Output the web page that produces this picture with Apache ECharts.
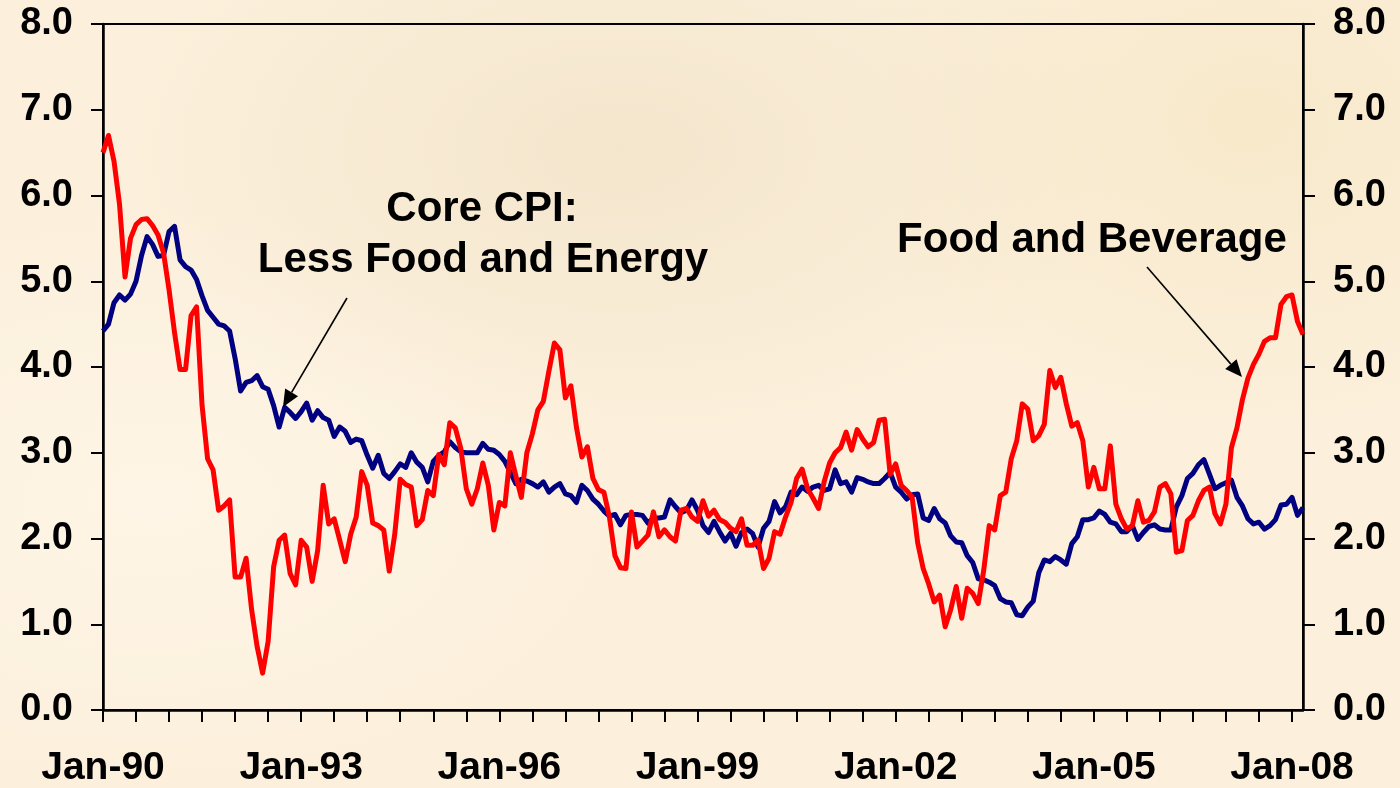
<!DOCTYPE html>
<html>
<head>
<meta charset="utf-8">
<script src="https://cdn.jsdelivr.net/npm/echarts@6/dist/echarts.min.js"></script>
<style>
  html, body { margin: 0; padding: 0; }
  body {
    width: 1400px; height: 788px; overflow: hidden;
    background:
      radial-gradient(ellipse 520px 300px at 620px 150px, rgba(238, 222, 192, 0.55), rgba(238, 222, 192, 0)),
      radial-gradient(ellipse 420px 320px at 1250px 120px, rgba(245, 228, 190, 0.6), rgba(245, 228, 190, 0)),
      radial-gradient(ellipse 500px 300px at 150px 500px, rgba(255, 248, 236, 0.6), rgba(255, 248, 236, 0)),
      #fcf0dc;
  }
  #chart { width: 1400px; height: 788px; }
</style>
</head>
<body>
<div id="chart"></div>
<script>
  // monthly, Jan-1990 .. Mar-2008, year-over-year % change
  var startYear = 1990,
    monthCount = 219;

  var coreCpi = [
    4.42, 4.50, 4.75, 4.84, 4.78, 4.85, 5.00, 5.30, 5.52, 5.43, 5.29, 5.30,
    5.58, 5.64, 5.25, 5.17, 5.13, 5.02, 4.83, 4.66, 4.58, 4.50, 4.48, 4.42,
    4.10, 3.72, 3.82, 3.84, 3.90, 3.77, 3.74, 3.55, 3.30, 3.53, 3.47, 3.40,
    3.48, 3.58, 3.38, 3.49, 3.41, 3.38, 3.19, 3.30, 3.25, 3.12, 3.16, 3.14,
    2.97, 2.82, 2.97, 2.76, 2.70, 2.78, 2.87, 2.83, 3.00, 2.89, 2.83, 2.66,
    2.90, 2.97, 3.01, 3.13, 3.06, 3.01, 3.00, 3.00, 3.00, 3.11, 3.04, 3.03,
    2.98, 2.90, 2.77, 2.64, 2.69, 2.67, 2.64, 2.60, 2.66, 2.54, 2.60, 2.64,
    2.52, 2.50, 2.42, 2.62, 2.56, 2.46, 2.40, 2.32, 2.26, 2.28, 2.16, 2.27,
    2.28, 2.28, 2.27, 2.18, 2.24, 2.24, 2.25, 2.45, 2.37, 2.30, 2.33, 2.45,
    2.33, 2.15, 2.07, 2.20, 2.08, 1.97, 2.06, 1.91, 2.07, 2.11, 2.06, 1.90,
    2.12, 2.20, 2.43, 2.30, 2.37, 2.54, 2.51, 2.60, 2.55, 2.60, 2.62, 2.56,
    2.58, 2.80, 2.64, 2.66, 2.54, 2.71, 2.69, 2.66, 2.64, 2.64, 2.70, 2.77,
    2.60, 2.54, 2.46, 2.51, 2.52, 2.24, 2.21, 2.35, 2.23, 2.18, 2.03, 1.96,
    1.95, 1.80, 1.72, 1.53, 1.52, 1.49, 1.45, 1.30, 1.26, 1.25, 1.11, 1.10,
    1.20, 1.27, 1.60, 1.75, 1.73, 1.79, 1.75, 1.70, 1.94, 2.02, 2.22, 2.22,
    2.24, 2.32, 2.28, 2.19, 2.17, 2.08, 2.08, 2.15, 1.99, 2.07, 2.14, 2.16,
    2.11, 2.10, 2.10, 2.37, 2.50, 2.70, 2.76, 2.86, 2.92, 2.75, 2.58, 2.62,
    2.65, 2.68, 2.48, 2.38, 2.23, 2.17, 2.19, 2.11, 2.15, 2.22, 2.39, 2.40,
    2.48, 2.27, 2.36
  ];

  var foodBev = [
    6.50, 6.70, 6.40, 5.90, 5.05, 5.50, 5.66, 5.72, 5.73, 5.65, 5.54, 5.33,
    4.90, 4.40, 3.97, 3.97, 4.60, 4.70, 3.55, 2.93, 2.80, 2.33, 2.38, 2.45,
    1.55, 1.55, 1.77, 1.17, 0.74, 0.43, 0.80, 1.67, 1.98, 2.04, 1.59, 1.46,
    1.98, 1.90, 1.50, 1.86, 2.62, 2.17, 2.23, 1.98, 1.73, 2.05, 2.25, 2.78,
    2.62, 2.18, 2.15, 2.10, 1.62, 2.05, 2.69, 2.63, 2.60, 2.15, 2.22, 2.56,
    2.50, 2.98, 2.86, 3.35, 3.29, 3.05, 2.58, 2.40, 2.58, 2.88, 2.62, 2.10,
    2.42, 2.38, 3.00, 2.73, 2.48, 3.00, 3.22, 3.50, 3.60, 3.95, 4.28, 4.20,
    3.64, 3.78, 3.30, 2.95, 3.07, 2.70, 2.57, 2.54, 2.25, 1.80, 1.66, 1.65,
    2.31, 1.90, 1.97, 2.04, 2.31, 2.02, 2.10, 2.02, 1.97, 2.33, 2.35, 2.25,
    2.20, 2.44, 2.26, 2.33, 2.22, 2.19, 2.12, 2.08, 2.23, 1.92, 1.92, 1.98,
    1.65, 1.77, 2.08, 2.05, 2.25, 2.42, 2.70, 2.81, 2.58, 2.47, 2.35, 2.66,
    2.88, 3.00, 3.06, 3.24, 3.03, 3.27, 3.16, 3.07, 3.12, 3.38, 3.39, 2.75,
    2.87, 2.62, 2.56, 2.48, 1.95, 1.65, 1.47, 1.26, 1.34, 0.97, 1.17, 1.44,
    1.07, 1.42, 1.36, 1.24, 1.63, 2.15, 2.10, 2.50, 2.54, 2.93, 3.14, 3.57,
    3.51, 3.14, 3.20, 3.33, 3.96, 3.76, 3.88, 3.57, 3.31, 3.35, 3.14, 2.60,
    2.83, 2.58, 2.58, 3.08, 2.40, 2.23, 2.11, 2.15, 2.44, 2.19, 2.21, 2.31,
    2.60, 2.64, 2.52, 1.84, 1.86, 2.21, 2.27, 2.44, 2.56, 2.60, 2.29, 2.17,
    2.40, 3.06, 3.29, 3.62, 3.87, 4.03, 4.15, 4.30, 4.34, 4.34, 4.73, 4.82,
    4.84, 4.53, 4.38
  ];

  var yTicks = [0, 1, 2, 3, 4, 5, 6, 7, 8];

  var monthNames = ['Jan', 'Feb', 'Mar', 'Apr', 'May', 'Jun', 'Jul', 'Aug', 'Sep', 'Oct', 'Nov', 'Dec'];
  var months = [];
  for (var m = 0; m < monthCount; m++) {
    var yr = startYear + Math.floor(m / 12);
    months.push(monthNames[m % 12] + '-' + String(yr).slice(2));
  }

  var FONT = 'Arial, "Liberation Sans", sans-serif';
  var chart = echarts.init(document.getElementById('chart'));

  // arrow: thin line plus a filled head at the tip
  function arrow(x1, y1, x2, y2) {
    var dx = x2 - x1, dy = y2 - y1, len = Math.sqrt(dx * dx + dy * dy);
    var ux = dx / len, uy = dy / len, hl = 17, hw = 7.5;
    var bx = x2 - ux * hl, by = y2 - uy * hl;
    return [{
      type: 'line',
      shape: { x1: x1, y1: y1, x2: bx, y2: by },
      style: { stroke: '#000', lineWidth: 1.6 },
      z: 100
    }, {
      type: 'polygon',
      shape: { points: [[x2, y2], [bx - uy * hw, by + ux * hw], [bx + uy * hw, by - ux * hw]] },
      style: { fill: '#000' },
      z: 100
    }];
  }

  function label(text, x, y) {
    return {
      type: 'text',
      x: x,
      y: y,
      style: {
        text: text,
        font: 'bold 42px ' + FONT,
        fill: '#000',
        align: 'center',
        verticalAlign: 'middle'
      },
      z: 100
    };
  }

  var yAxisBase = {
    type: 'value',
    min: yTicks[0],
    max: yTicks[yTicks.length - 1],
    interval: 1,
    axisLine: { show: true, lineStyle: { color: '#000', width: 2.5 } },
    axisTick: { show: true, length: 12, lineStyle: { color: '#000', width: 2 } },
    splitLine: { show: false },
    axisLabel: {
      color: '#000',
      fontSize: 38,
      fontWeight: 'bold',
      fontFamily: FONT,
      margin: 30,
      formatter: function (v) { return v.toFixed(1); }
    }
  };

  var option = {
    animation: false,
    backgroundColor: 'transparent',
    grid: {
      left: 103,
      right: 97,
      top: 24,
      bottom: 74,
      show: true,
      borderColor: '#000',
      borderWidth: 2,
      backgroundColor: 'transparent'
    },
    xAxis: {
      type: 'category',
      data: months,
      boundaryGap: false,
      axisLine: { lineStyle: { color: '#000', width: 2.5 } },
      axisTick: {
        length: 12,
        lineStyle: { color: '#000', width: 2 },
        interval: function (idx) { return idx % 6 === 0; }
      },
      axisLabel: {
        color: '#000',
        fontSize: 39,
        fontWeight: 'bold',
        fontFamily: FONT,
        margin: 39,
        interval: function (idx) { return idx % 36 === 0; }
      },
      splitLine: { show: false }
    },
    yAxis: [
      echarts.util.merge({ position: 'left' }, yAxisBase, true),
      echarts.util.merge({ position: 'right' }, yAxisBase, true)
    ],
    series: [{
      name: 'Core CPI: Less Food and Energy',
      type: 'line',
      data: coreCpi,
      yAxisIndex: 0,
      showSymbol: false,
      lineStyle: { color: '#000080', width: 5, join: 'round' },
      z: 2
    }, {
      name: 'Food and Beverage',
      type: 'line',
      data: foodBev,
      yAxisIndex: 0,
      showSymbol: false,
      lineStyle: { color: '#ff0000', width: 5, join: 'round' },
      z: 3
    }],
    graphic: [
      label('Core CPI:', 482, 209),
      label('Less Food and Energy', 483, 260),
      label('Food and Beverage', 1092, 240)
    ].concat(arrow(347, 298, 283, 407), arrow(1147, 267, 1242, 377))
  };

  chart.setOption(option);
</script>
</body>
</html>
